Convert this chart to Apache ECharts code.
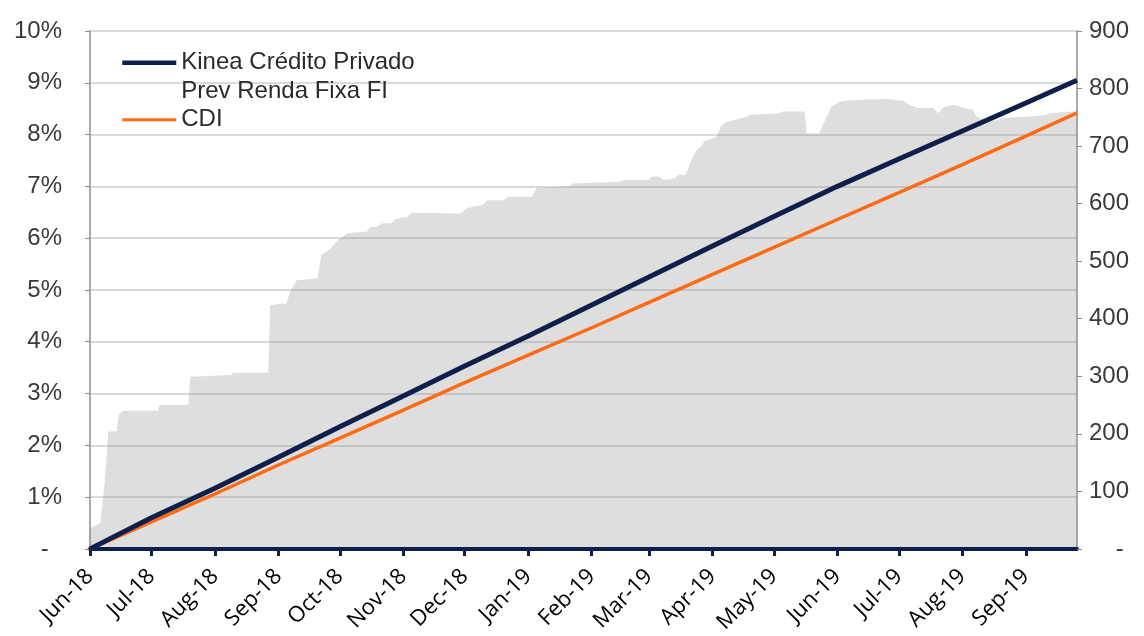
<!DOCTYPE html>
<html>
<head>
<meta charset="utf-8">
<script src="https://cdn.jsdelivr.net/npm/echarts@6/dist/echarts.min.js"></script>
<style>html,body{margin:0;padding:0;background:#fff}#c{width:1144px;height:636px}</style>
</head>
<body>
<div id="c"></div>
<script>
// ---- data ----
const seriesNames = ['Kinea Crédito Privado Prev Renda Fixa FI', 'CDI', 'PL'];
const lineDates = ['2018-06-01','2018-07-01','2018-08-01','2018-09-01','2018-10-01','2018-11-01','2018-12-01',
  '2019-01-01','2019-02-01','2019-03-01','2019-04-01','2019-05-01','2019-06-01','2019-07-01','2019-08-01','2019-09-01','2019-09-26'];
const kineaValues = [0, 0.60, 1.17, 1.77, 2.36, 2.95, 3.53, 4.11, 4.71, 5.25, 5.85, 6.42, 7.00, 7.53, 8.07, 8.61, 9.05];
const cdiValues   = [0, 0.52, 1.06, 1.62, 2.14, 2.68, 3.21, 3.74, 4.27, 4.76, 5.30, 5.82, 6.36, 6.88, 7.42, 7.97, 8.42];
const aumDates = ['2018-06-01','2018-06-06','2018-06-08','2018-06-10','2018-06-14','2018-06-15','2018-06-17','2018-07-04','2018-07-05','2018-07-19',
  '2018-07-20','2018-08-09','2018-08-10','2018-08-27','2018-08-28','2018-09-05','2018-09-07','2018-09-10','2018-09-20','2018-09-22',
  '2018-09-26','2018-09-30','2018-10-05','2018-10-14','2018-10-16','2018-10-19','2018-10-22','2018-10-26','2018-10-28','2018-11-03',
  '2018-11-05','2018-11-29','2018-12-02','2018-12-10','2018-12-12','2018-12-20','2018-12-22','2019-01-03','2019-01-05','2019-01-21',
  '2019-01-23','2019-02-15','2019-02-17','2019-03-01','2019-03-02','2019-03-06','2019-03-08','2019-03-14','2019-03-15','2019-03-19',
  '2019-03-21','2019-03-24','2019-03-27','2019-03-28','2019-04-03','2019-04-05','2019-04-07','2019-04-08','2019-04-18','2019-04-19',
  '2019-05-04','2019-05-05','2019-05-16','2019-05-17','2019-05-23','2019-05-26','2019-05-29','2019-06-02','2019-06-05','2019-06-15',
  '2019-06-25','2019-07-03','2019-07-06','2019-07-10','2019-07-18','2019-07-20','2019-07-23','2019-07-28','2019-08-02','2019-08-06',
  '2019-08-08','2019-08-12','2019-08-18','2019-08-20','2019-09-01','2019-09-11','2019-09-13','2019-09-24','2019-09-26'];
const aumValues = [36,45,110,204,204,233,240,240,250,250,
  299,302,306,306,424,427,450,467,470,511,
  520,537,549,551,560,560,566,566,573,577,
  584,583,592,598,606,606,612,612,627,630,
  635,638,641,641,647,647,641,644,650,650,
  670,692,702,708,716,734,740,742,751,754,
  757,760,760,722,722,745,768,777,779,781,
  782,779,772,766,766,757,768,772,766,763,
  751,745,745,749,751,754,757,760,760];
const xTickDates = ['2018-06-01','2018-07-01','2018-08-01','2018-09-01','2018-10-01','2018-11-01','2018-12-01','2019-01-01',
  '2019-02-01','2019-03-01','2019-04-01','2019-05-01','2019-06-01','2019-07-01','2019-08-01','2019-09-01'];
const xTickLabels = ['Jun-18','Jul-18','Aug-18','Sep-18','Oct-18','Nov-18','Dec-18','Jan-19',
  'Feb-19','Mar-19','Apr-19','May-19','Jun-19','Jul-19','Aug-19','Sep-19'];
const xMin = '2018-06-01', xMax = '2019-09-26';

// ---- build ----
const DAY = 86400000;
function ts(s){ const p = s.split('-').map(Number); return Date.UTC(p[0], p[1]-1, p[2]) / DAY; }
const tickTs = xTickDates.map(ts);
const zip = (d, v) => d.map((x, i) => [ts(x), v[i]]);

const NAVY = '#0f1f4b', ORANGE = '#ff6a13', AXISGRAY = '#8c8c8c';
const labelFont = '"Liberation Sans", Arial, sans-serif';

const chart = echarts.init(document.getElementById('c'), null, {renderer: 'canvas'});
chart.setOption({
  animation: false,
  backgroundColor: '#ffffff',
  grid: {left: 90, right: 67, top: 31, bottom: 87, containLabel: false},
  legend: {
    orient: 'vertical', left: 120, top: 20, padding: 0, itemWidth: 54, itemHeight: 2, itemGap: 0,
    textStyle: {fontFamily: labelFont, fontSize: 24, color: '#2a2a2a', lineHeight: 28.5},
    formatter: n => n === seriesNames[0] ? '\nKinea Crédito Privado\nPrev Renda Fixa FI' : n,
    data: [
      {name: seriesNames[0], lineStyle: {width: 4.5}},
      {name: seriesNames[1], lineStyle: {width: 3}}
    ]
  },
  xAxis: {
    type: 'value', min: ts(xMin), max: ts(xMax),
    axisLine: {show: true, onZero: false, lineStyle: {color: NAVY, width: 4}},
    axisTick: {show: true, length: 7, lineStyle: {color: NAVY, width: 3}, customValues: tickTs},
    axisLabel: {
      customValues: tickTs, rotate: 45, margin: 24, showMinLabel: true, showMaxLabel: true,
      fontFamily: '"Open Sans", "Noto Sans", sans-serif', fontSize: 22, color: '#000',
      formatter: v => { const i = tickTs.indexOf(v); return i >= 0 ? xTickLabels[i] : ''; }
    },
    splitLine: {show: false}
  },
  yAxis: [
    {
      type: 'value', min: 0, max: 10, interval: 1, position: 'left',
      axisLine: {show: true, lineStyle: {color: AXISGRAY, width: 1.5}},
      axisTick: {show: true, inside: false, length: 5, lineStyle: {color: AXISGRAY}},
      axisLabel: {fontFamily: labelFont, fontSize: 24, color: '#3a3a3a', margin: 28,
        formatter: v => v === 0 ? '-  ' : v + '%'},
      splitLine: {show: true, lineStyle: {color: 'rgba(150,150,150,0.35)', width: 2}}
    },
    {
      type: 'value', min: 0, max: 900, interval: 100, position: 'right',
      axisLine: {show: true, lineStyle: {color: AXISGRAY, width: 1.5}},
      axisTick: {show: true, inside: false, length: 5, lineStyle: {color: AXISGRAY}},
      axisLabel: {fontFamily: labelFont, fontSize: 24, color: '#3a3a3a', margin: 12,
        formatter: v => v === 0 ? '    -' : String(v)},
      splitLine: {show: false}
    }
  ],
  series: [
    {
      name: seriesNames[2], type: 'line', yAxisIndex: 1, z: -1, symbol: 'none',
      lineStyle: {width: 0}, areaStyle: {color: '#dedede', opacity: 1},
      data: zip(aumDates, aumValues), silent: true
    },
    {
      name: seriesNames[1], type: 'line', yAxisIndex: 0, symbol: 'none',
      lineStyle: {color: ORANGE, width: 3.5}, itemStyle: {color: ORANGE},
      data: zip(lineDates, cdiValues)
    },
    {
      name: seriesNames[0], type: 'line', yAxisIndex: 0, symbol: 'none',
      lineStyle: {color: NAVY, width: 5}, itemStyle: {color: NAVY},
      data: zip(lineDates, kineaValues)
    }
  ]
});
</script>
</body>
</html>
